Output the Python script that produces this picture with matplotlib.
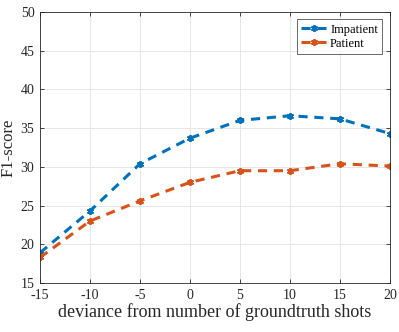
import matplotlib
matplotlib.use("Agg")
import matplotlib.pyplot as plt

# deviance from number of groundtruth shots
deviance = [-15, -10, -5, 0, 5, 10, 15, 20]
impatient = [18.9, 24.3, 30.4, 33.7, 36.0, 36.6, 36.2, 34.3]
patient = [18.3, 23.0, 25.6, 28.0, 29.5, 29.5, 30.4, 30.1]

x_ticks = [-15, -10, -5, 0, 5, 10, 15, 20]
y_ticks = [15, 20, 25, 30, 35, 40, 45, 50]

plt.rcParams['font.family'] = ['Liberation Serif', 'DejaVu Serif']
plt.rcParams['axes.unicode_minus'] = False

fig = plt.figure(figsize=(3.99, 3.32), dpi=100)
ax = fig.add_axes([0.1003, 0.1476, 0.8767, 0.8163])

# asterisk-like marker (MATLAB '*')
star = (6, 2, 0)
ax.plot(deviance, impatient, '--', marker=star, color=(0, 0.447, 0.741),
        linewidth=2.2, markersize=5, markeredgewidth=1.3, dashes=(3, 2.2),
        label='Impatient')
ax.plot(deviance, patient, '--', marker=star, color=(0.85, 0.325, 0.098),
        linewidth=2.2, markersize=5, markeredgewidth=1.3, dashes=(3, 2.2),
        label='Patient')

ax.set_xlim(-15, 20)
ax.set_ylim(15, 50)
ax.set_xticks(x_ticks)
ax.set_yticks(y_ticks)
ax.grid(True, color='#e6e6e6', linewidth=0.7)
ax.set_axisbelow(True)
ax.tick_params(direction='in', top=True, right=True, labelsize=10,
               colors='#262626', length=3, width=0.6)
ax.tick_params(axis='y', pad=4)
ax.tick_params(axis='x', pad=4)
for s in ax.spines.values():
    s.set_color('#262626')
    s.set_linewidth(0.6)

ax.set_xlabel('deviance from number of groundtruth shots', fontsize=13,
              color='#262626', labelpad=1)
ax.set_ylabel('F1-score', fontsize=12, color='#262626', labelpad=3)

leg = ax.legend(loc='upper right', fontsize=9, fancybox=False,
                handlelength=2.0, handletextpad=0.3, borderaxespad=0.6,
                labelspacing=0.15, borderpad=0.35)
leg.get_frame().set_edgecolor('#262626')
leg.get_frame().set_linewidth(0.6)

fig.savefig('out.png', dpi=100)
